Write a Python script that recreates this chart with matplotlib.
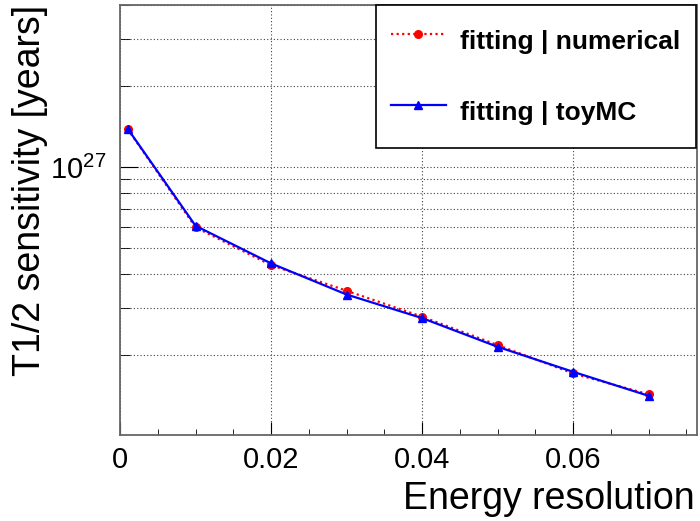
import math
import matplotlib
matplotlib.use("Agg")
import matplotlib.pyplot as plt
from matplotlib.ticker import LogLocator, MultipleLocator, FixedLocator, FuncFormatter, NullFormatter

# data
energy_res = [0.001, 0.01, 0.02, 0.03, 0.04, 0.05, 0.06, 0.07]
sens_numerical = [1.385e27, 0.597e27, 0.432e27, 0.347e27, 0.278e27, 0.218e27, 0.171e27, 0.143e27]
sens_toymc = [1.39e27, 0.605e27, 0.4385e27, 0.336e27, 0.2746e27, 0.2148e27, 0.1734e27, 0.1412e27]
xtick_vals = [0, 0.02, 0.04, 0.06]
labels = ["fitting | numerical", "fitting | toyMC"]

plt.rcParams["font.family"] = ["Liberation Sans", "DejaVu Sans"]
plt.rcParams["mathtext.fontset"] = "custom"
plt.rcParams["mathtext.rm"] = "Liberation Sans"
plt.rcParams["mathtext.default"] = "regular"

fig = plt.figure(figsize=(7, 5.21), dpi=100)
ax = fig.add_axes([120 / 700, 86 / 521, 577 / 700, 430 / 521])

ax.plot(energy_res, sens_numerical, color="red", linestyle=(0, (1, 1.5)), lw=1.6,
        marker="o", markersize=5.5, label=labels[0], zorder=3)
ax.plot(energy_res, sens_toymc, color="blue", linestyle="-", lw=1.6,
        marker="^", markersize=6, label=labels[1], zorder=4)

ax.set_yscale("log")
ax.set_xlim(0, 0.0764)
ax.set_ylim(1.01e26, 4.0e27)

# ticks
ax.xaxis.set_major_locator(FixedLocator(xtick_vals))
ax.xaxis.set_minor_locator(MultipleLocator(0.005))
ax.xaxis.set_major_formatter(FuncFormatter(lambda v, p: "0" if v == 0 else f"{v:.2f}"))
ax.yaxis.set_major_locator(LogLocator(base=10))
ax.yaxis.set_minor_locator(LogLocator(base=10, subs=[2, 3, 4, 5, 6, 7, 8, 9]))
ax.yaxis.set_minor_formatter(NullFormatter())
ax.yaxis.set_major_formatter(FuncFormatter(lambda v, p: r"$10^{%d}$" % round(math.log10(v))))

ax.tick_params(axis="both", which="both", direction="in", top=False, right=False,
               labelsize=21, color="black")
ax.tick_params(axis="x", which="major", length=9.5, pad=8)
ax.tick_params(axis="x", which="minor", length=4.5)
ax.tick_params(axis="y", which="major", length=13, pad=10)
ax.tick_params(axis="y", which="minor", length=7)

ax.grid(True, axis="y", which="both", color="0.25", linestyle=(0, (1, 2)), lw=0.8)
ax.grid(True, axis="x", which="major", color="0.25", linestyle=(0, (1, 2)), lw=0.8)

for s in ax.spines.values():
    s.set_color("#666666")
    s.set_linewidth(1.3)

# axis titles
fig.text(12 / 700, 1 - 5 / 521, "T1/2 sensitivity [years]", rotation=90,
         ha="left", va="top", fontsize=27)
fig.text(695 / 700, 1 - 509 / 521, "Energy resolution", ha="right", va="baseline",
         fontsize=27)

leg = ax.legend(loc="upper left", bbox_to_anchor=(376 / 700, 1 - 148 / 521, 320 / 700, 143 / 521),
                bbox_transform=fig.transFigure, mode="expand", fancybox=False, framealpha=1,
                edgecolor="black", prop={"weight": "bold", "size": 19}, handlelength=2.1,
                handletextpad=0.53, handleheight=2.15, labelspacing=1.02, borderpad=0.55,
                borderaxespad=0, numpoints=1)
leg.get_frame().set_linewidth(1.2)

fig.savefig("out.png", dpi=100)
